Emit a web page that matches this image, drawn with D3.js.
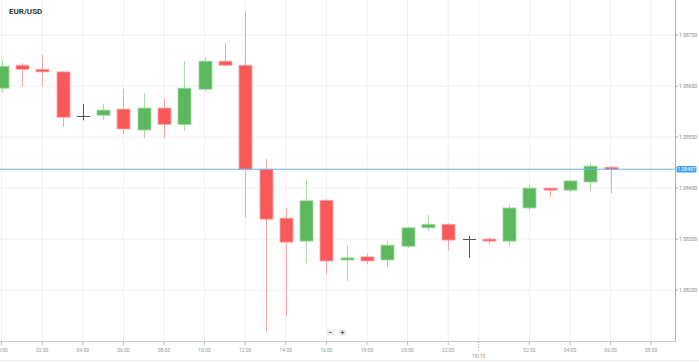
<!DOCTYPE html>
<html><head><meta charset="utf-8">
<script src="https://cdn.jsdelivr.net/npm/d3@7"></script>
<style>body{margin:0;background:#fff;overflow:hidden}svg{display:block}text{font-family:Roboto,"Noto Sans",sans-serif}</style>
</head><body>
<svg id="c" width="699" height="362"></svg>
<script>
const title = "EUR/USD";
const times = ["2023-10-17T00:00","2023-10-17T01:00","2023-10-17T02:00","2023-10-17T03:00","2023-10-17T04:00","2023-10-17T05:00","2023-10-17T06:00","2023-10-17T07:00","2023-10-17T08:00","2023-10-17T09:00","2023-10-17T10:00","2023-10-17T11:00","2023-10-17T12:00","2023-10-17T13:00","2023-10-17T14:00","2023-10-17T15:00","2023-10-17T16:00","2023-10-17T17:00","2023-10-17T18:00","2023-10-17T19:00","2023-10-17T20:00","2023-10-17T21:00","2023-10-17T22:00","2023-10-17T23:00","2023-10-18T00:00","2023-10-18T01:00","2023-10-18T02:00","2023-10-18T03:00","2023-10-18T04:00","2023-10-18T05:00","2023-10-18T06:00"];
const open  = [1.08646,1.08691,1.08683,1.08678,1.08591,1.08593,1.08605,1.08564,1.08607,1.08575,1.08644,1.08699,1.08691,1.08487,1.08391,1.08346,1.08426,1.08309,1.08315,1.08309,1.08336,1.08372,1.08379,1.08350,1.08350,1.08346,1.08411,1.08450,1.08446,1.08462,1.08491];
const high  = [1.08701,1.08695,1.08711,1.08679,1.08615,1.08615,1.08644,1.08636,1.08626,1.08699,1.08707,1.08734,1.08797,1.08507,1.08411,1.08466,1.08428,1.08338,1.08321,1.08346,1.08374,1.08397,1.08381,1.08356,1.08354,1.08417,1.08456,1.08450,1.08466,1.08499,1.08493];
const low   = [1.08638,1.08650,1.08650,1.08570,1.08583,1.08583,1.08556,1.08548,1.08548,1.08562,1.08640,1.08689,1.08393,1.08168,1.08199,1.08303,1.08281,1.08268,1.08301,1.08295,1.08332,1.08366,1.08328,1.08313,1.08340,1.08336,1.08405,1.08432,1.08442,1.08444,1.08440];
const close = [1.08689,1.08683,1.08678,1.08589,1.08591,1.08603,1.08566,1.08607,1.08575,1.08646,1.08699,1.08691,1.08487,1.08389,1.08344,1.08425,1.08307,1.08313,1.08307,1.08338,1.08372,1.08379,1.08348,1.08350,1.08346,1.08411,1.08450,1.08446,1.08464,1.08493,1.08487];
const yTicks = [1.0825,1.0835,1.0845,1.0855,1.0865,1.0875];
const xTicks = ["2023-10-17T00:00","2023-10-17T02:00","2023-10-17T04:00","2023-10-17T06:00","2023-10-17T08:00","2023-10-17T10:00","2023-10-17T12:00","2023-10-17T14:00","2023-10-17T16:00","2023-10-17T18:00","2023-10-17T20:00","2023-10-17T22:00","2023-10-18T02:00","2023-10-18T04:00","2023-10-18T06:00","2023-10-18T08:00"];
const dateTick = "2023-10-17T23:30";
const dateLabel = "18/10";
const xDomain = ["2023-10-17T00:00","2023-10-18T09:00"];
const yDomain = [1.08150, 1.08819];
const lastPrice = 1.08487;

const parse = d3.utcParse("%Y-%m-%dT%H:%M");
const W = 699, H = 362, plotR = 675, plotB = 341;
const svg = d3.select("#c");
const x = d3.scaleUtc().domain(xDomain.map(parse)).range([1.6, 1.6 + 20.3*33]);
const y = d3.scaleLinear().domain(yDomain).range([plotB, 0]);

svg.append("defs").append("clipPath").attr("id","clip").append("rect")
  .attr("x",0).attr("y",0).attr("width",plotR).attr("height",plotB);

const grid = svg.append("g");
grid.selectAll("line.h").data(yTicks).join("line")
  .attr("x1",0).attr("x2",plotR).attr("y1",d=>y(d)).attr("y2",d=>y(d))
  .attr("stroke","#f0f0f0").attr("stroke-width",1);
grid.selectAll("line.v").data(xTicks.concat([dateTick])).join("line")
  .attr("x1",d=>x(parse(d))).attr("x2",d=>x(parse(d))).attr("y1",0).attr("y2",plotB)
  .attr("stroke","#f0f0f0").attr("stroke-width",1);

const data = times.map((t,i)=>({t:parse(t),o:open[i],h:high[i],l:low[i],c:close[i]}));
const bw = 13;
const g = svg.append("g").attr("clip-path","url(#clip)");
const col = d => d.o===d.c ? "#555" : (d.c>d.o ? "#5cb85c" : "#f85a5a");
const wcol = d => d.o===d.c ? "#555" : (d.c>d.o ? "#a9dba9" : "#f9a3a3");
const bcol = d => d.c>d.o ? "#9fd89f" : "#fca3a3";
g.selectAll("line.w").data(data).join("line")
  .attr("x1",d=>Math.round(x(d.t))+0.5).attr("x2",d=>Math.round(x(d.t))+0.5)
  .attr("y1",d=>y(d.h)).attr("y2",d=>y(d.l))
  .attr("stroke",wcol).attr("stroke-width",1);
g.selectAll("rect.b").data(data.filter(d=>d.o!==d.c)).join("rect")
  .attr("x",d=>Math.round(x(d.t))-6).attr("width",bw)
  .attr("y",d=>y(Math.max(d.o,d.c)))
  .attr("height",d=>Math.max(2, Math.abs(y(d.o)-y(d.c))))
  .attr("fill",col).attr("stroke",bcol).attr("stroke-width",0.8);
g.selectAll("line.d").data(data.filter(d=>d.o===d.c)).join("line")
  .attr("x1",d=>Math.round(x(d.t))-6).attr("x2",d=>Math.round(x(d.t))+7)
  .attr("y1",d=>Math.round(y(d.o))+0.5).attr("y2",d=>Math.round(y(d.o))+0.5)
  .attr("stroke","#555").attr("stroke-width",1);

// price line
svg.append("line").attr("x1",0).attr("x2",plotR)
  .attr("y1",y(lastPrice)).attr("y2",y(lastPrice))
  .attr("stroke","#6db3ea").attr("stroke-width",1);

// right axis
svg.append("line").attr("x1",plotR+0.5).attr("x2",plotR+0.5).attr("y1",0).attr("y2",plotB)
  .attr("stroke","#b0b0b0");
const ya = svg.append("g");
ya.selectAll("line").data(yTicks).join("line")
  .attr("x1",plotR).attr("x2",plotR+3).attr("y1",d=>y(d)).attr("y2",d=>y(d)).attr("stroke","#aaa");
ya.selectAll("text").data(yTicks).join("text")
  .attr("x",plotR+4).attr("y",d=>y(d)+1.8).attr("font-size",5).attr("fill","#888")
  .text(d3.format(".5f"));

// price label
svg.append("rect").attr("x",plotR+1.5).attr("y",y(lastPrice)-3.2).attr("width",20).attr("height",6.4)
  .attr("rx",1.5).attr("fill","#3c9ff0");
svg.append("text").attr("x",plotR+11.5).attr("y",y(lastPrice)+1.8).attr("text-anchor","middle")
  .attr("font-size",5).attr("fill","#fff").text(d3.format(".5f")(lastPrice));

// bottom axis
svg.append("line").attr("x1",0).attr("x2",plotR+1).attr("y1",plotB+0.5).attr("y2",plotB+0.5).attr("stroke","#c8c8c8");
svg.append("line").attr("x1",0).attr("x2",W).attr("y1",H-1.5).attr("y2",H-1.5).attr("stroke","#ececec");
const xa = svg.append("g");
xa.selectAll("line").data(xTicks).join("line")
  .attr("x1",d=>x(parse(d))).attr("x2",d=>x(parse(d))).attr("y1",plotB+1).attr("y2",plotB+4).attr("stroke","#bbb");
xa.selectAll("text").data(xTicks).join("text")
  .attr("x",d=>x(parse(d))).attr("y",352).attr("text-anchor","middle")
  .attr("font-size",5).attr("fill","#999").text(d=>d3.utcFormat("%H:%M")(parse(d)));
svg.append("line").attr("x1",x(parse(dateTick))).attr("x2",x(parse(dateTick)))
  .attr("y1",plotB+1).attr("y2",plotB+10).attr("stroke","#999").attr("stroke-dasharray","1,1.5");
svg.append("text").attr("x",x(parse(dateTick))).attr("y",358).attr("text-anchor","middle")
  .attr("font-size",5).attr("fill","#999").text(dateLabel);

// zoom buttons
const btn = svg.append("g");
[["−",330.5],["+",342.5]].forEach(([s,cx])=>{
  btn.append("rect").attr("x",cx-4).attr("y",329.5).attr("width",8).attr("height",6).attr("fill","#eee");
  btn.append("text").attr("x",cx).attr("y",334.6).attr("text-anchor","middle").attr("font-size",7)
    .attr("font-weight","bold").attr("fill","#555").text(s);
});

// title
svg.append("text").attr("x",9).attr("y",14).attr("font-size",8).attr("font-weight","bold")
  .attr("fill","#333").text(title);
</script>
</body></html>
